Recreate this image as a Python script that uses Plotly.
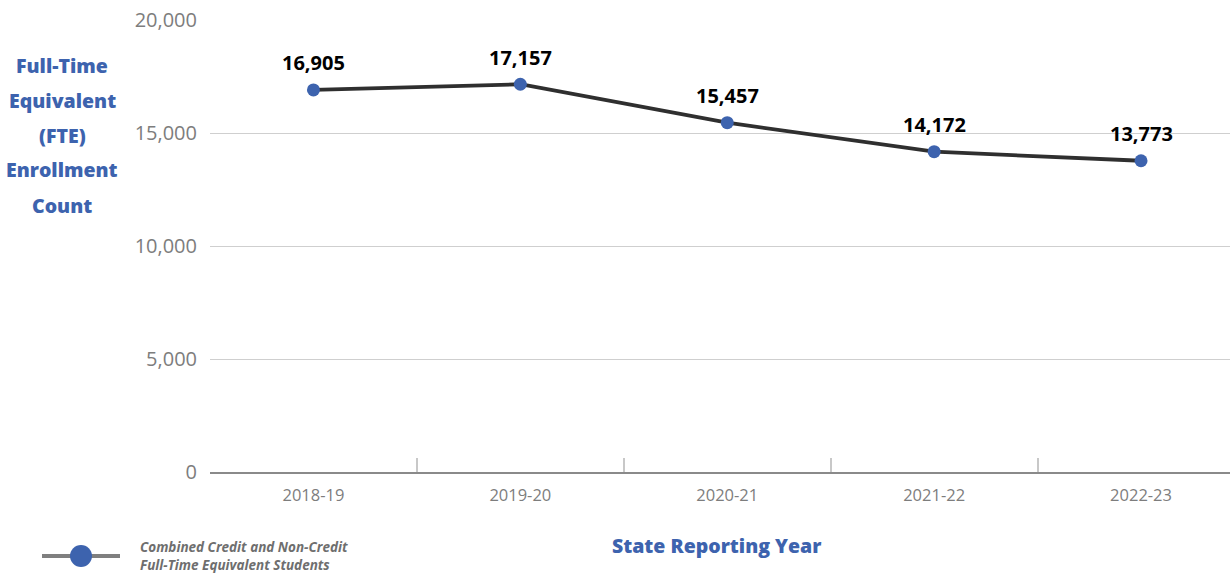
import plotly.graph_objects as go

# FTE enrollment by state reporting year
years = ["2018-19", "2019-20", "2020-21", "2021-22", "2022-23"]
fte_counts = [16905, 17157, 15457, 14172, 13773]
y_ticks = [0, 5000, 10000, 15000, 20000]
y_tick_text = ["0", "5,000", "10,000", "15,000", "20,000"]
y_title_lines = ["Full-Time", "Equivalent", "(FTE)", "Enrollment", "Count"]

series_name = "Combined Credit and Non-Credit<br>Full-Time Equivalent Students"
blue = "#3d63ae"
grey_text = "#7d7d7d"

fig = go.Figure()
fig.add_trace(go.Scatter(
    x=years,
    y=fte_counts,
    mode="lines+markers",
    name=series_name,
    line=dict(color="#2f2f2f", width=3.8),
    marker=dict(color=blue, size=13),
    cliponaxis=False,
    showlegend=False,
))

# Value labels above each point
for yr, val in zip(years, fte_counts):
    fig.add_annotation(
        x=yr, y=val, text=f"{val:,}", showarrow=False,
        xanchor="center", yanchor="middle", yshift=27,
        font=dict(family="Open Sans", size=20, color="#000000", weight="bold"),
    )

fig.update_layout(
    width=1230,
    height=582,
    margin=dict(l=210, r=0, t=20, b=110),
    paper_bgcolor="white",
    plot_bgcolor="white",
    font=dict(family="Open Sans", color=grey_text),
    xaxis=dict(
        type="category",
        range=[-0.5, 4.43],
        showgrid=False,
        showline=True,
        linecolor="#8a8a8a",
        linewidth=2,
        ticks="inside",
        tickson="boundaries",
        ticklen=14,
        tickcolor="#c8c8c8",
        tickwidth=1.5,
        tickfont=dict(family="Open Sans", size=16.5, color=grey_text),
        ticklabelstandoff=7,
    ),
    yaxis=dict(
        range=[0, 20000],
        tickvals=y_ticks,
        ticktext=y_tick_text,
        showgrid=True,
        gridcolor="#cfcfcf",
        gridwidth=1.2,
        zeroline=False,
        showline=False,
        tickfont=dict(family="Open Sans", size=20, color=grey_text),
        ticklabelstandoff=12,
    ),
)

# Vertical axis title, one line per annotation for wider line spacing
for i, line in enumerate(y_title_lines):
    fig.add_annotation(
        text=line,
        xref="paper", yref="paper", x=-0.145, y=(472 - 65 - 35 * i) / 452,
        xanchor="center", yanchor="middle", showarrow=False,
        font=dict(family="Open Sans", size=19.5, color=blue, weight=800),
    )

fig.add_annotation(
    text="State Reporting Year",
    xref="paper", yref="paper", x=(716 - 210) / 1020, y=(472 - 545) / 452,
    xanchor="center", yanchor="middle", showarrow=False,
    font=dict(family="Open Sans", size=19.5, color=blue, weight=800),
)

# Custom legend entry
legend_y = (472 - 556) / 452
fig.add_shape(
    type="line", xref="paper", yref="paper",
    x0=(42 - 210) / 1020, x1=(120 - 210) / 1020, y0=legend_y, y1=legend_y,
    line=dict(color="#7f7f7f", width=4),
)
fig.add_shape(
    type="circle", xref="paper", yref="paper",
    xsizemode="pixel", ysizemode="pixel",
    xanchor=(81 - 210) / 1020, yanchor=legend_y,
    x0=-11, x1=11, y0=-11, y1=11,
    fillcolor=blue, line=dict(color=blue, width=0),
)
fig.add_annotation(
    text=series_name,
    xref="paper", yref="paper", x=(138 - 210) / 1020, y=legend_y,
    xanchor="left", yanchor="middle", showarrow=False, align="left",
    font=dict(family="Open Sans", size=13.5, color="#6e6e6e", weight="bold", style="italic"),
)

fig.write_html("out.html")
